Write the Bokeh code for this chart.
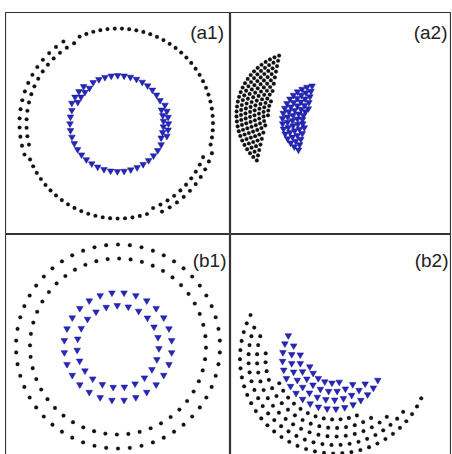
import numpy as np
from bokeh.plotting import figure
from bokeh.layouts import gridplot, column, row
from bokeh.models import Spacer, Range1d
from bokeh.embed import file_html
from bokeh.resources import INLINE
from bokeh.core.properties import value

# Particle shells: each row is an arc (radius, start deg, end deg, particle count),
# angles counter-clockwise from +x, positions in panel units centred on each panel.

# (a1) two concentric rings
A1_BLACK_CENTER = (0.0, 0.0)
A1_BLACK_R = [95, 91.5, 98.5, 95, 91.5, 98.5]
A1_BLACK_FROM = [-15, 116, 121, 200, 290, 294]
A1_BLACK_TO = [116, 196, 201, 290, 341, 345]
A1_BLACK_N = [30, 15, 15, 20, 10, 10]

A1_BLUE_CENTER = (0.0, 0.0)
A1_BLUE_R = [48, 45.5, 50.5, 48, 45.5, 50.5]
A1_BLUE_FROM = [25, 125, 129, 160, 338, 342]
A1_BLUE_TO = [125, 156, 160, 338, 381, 385]
A1_BLUE_N = [13, 4, 4, 22, 6, 6]

# (a2) two crescents
A2_BLACK_CENTER = (-42.5, 9.0)
A2_BLACK_R = [62, 57.5, 53, 48.5, 44, 39.5, 35, 30.5]
A2_BLACK_FROM = [105.9, 108.3, 111.2, 114.7, 119.2, 125.2, 134, 150]
A2_BLACK_TO = [230.1, 227.7, 224.8, 221.3, 216.8, 210.8, 202, 186]
A2_BLACK_N = [27, 24, 21, 18, 15, 12, 9, 4]

A2_BLUE_CENTER = (-23.5, 3.0)
A2_BLUE_R = [35, 30, 25, 20, 15]
A2_BLUE_FROM = [94.6, 97.5, 101.6, 108, 119.8]
A2_BLUE_TO = [241.4, 238.5, 234.4, 228, 216.2]
A2_BLUE_N = [17, 14, 11, 8, 6]

# (b1) double rings
B1_BLACK_CENTER = (0.0, -1.0)
B1_BLACK_R = [102, 88]
B1_BLACK_FROM = [0, 3]
B1_BLACK_TO = [360, 363]
B1_BLACK_N = [54, 48]

B1_BLUE_CENTER = (0.0, -1.0)
B1_BLUE_R = [54, 41]
B1_BLUE_FROM = [0, 5]
B1_BLUE_TO = [360, 365]
B1_BLUE_N = [28, 23]

# (b2) partial shells
B2_BLACK_CENTER = (-6.0, -13.0)
B2_BLACK_R = [95, 86.5, 78, 69.5, 61]
B2_BLACK_FROM = [150, 156, 160, 172, 200]
B2_BLACK_TO = [338, 325, 315, 305, 295]
B2_BLACK_N = [34, 28, 23, 18, 12]

B2_BLUE_CENTER = (-8.5, -13.5)
B2_BLUE_R = [50, 41, 32.5, 24]
B2_BLUE_FROM = [147, 155, 165, 190]
B2_BLUE_TO = [340, 329, 316, 295]
B2_BLUE_N = [19, 14, 10, 6]

LABELS = ["(a1)", "(a2)", "(b1)", "(b2)"]
LABEL_X = [106, 106.5, 108.5, 107.5]
LABEL_Y = [91.5, 91.5, 85, 85]

BLACK = "#111111"
BLUE_FILL = "#2626bf"
BLUE_LINE = "#16168a"


def shell(center, radii, a_from, a_to, counts):
    cx, cy = center
    xs, ys = [], []
    for r, a0, a1, n in zip(radii, a_from, a_to, counts):
        t = np.deg2rad(a0 + (np.arange(n) + 0.5) * (a1 - a0) / n)
        xs.extend(cx + r * np.cos(t))
        ys.extend(cy + r * np.sin(t))
    return xs, ys


def panel(w, h, label, lx, ly, black, blue):
    p = figure(width=w, height=h,
               x_range=Range1d(-w / 2, w / 2), y_range=Range1d(-h / 2, h / 2),
               output_backend="svg", toolbar_location=None, min_border=0,
               x_axis_location=None, y_axis_location=None,
               outline_line_color="#333333", outline_line_width=1.2,
               background_fill_color="white", border_fill_color="white")
    p.grid.visible = False
    bx, by = shell(*black)
    p.scatter(bx, by, marker="circle", size=3.7, fill_color=BLACK,
              line_color=BLACK, line_width=0.3)
    ux, uy = shell(*blue)
    p.scatter(ux, uy, marker="inverted_triangle", size=6.6, fill_color=BLUE_FILL,
              line_color=BLUE_LINE, line_width=0.5)
    p.text(x=[lx], y=[ly], text=[label], text_align="right",
           text_baseline="alphabetic", text_font=value("Liberation Sans"),
           text_font_size="19px", text_color="#222222")
    return p


a1 = panel(225, 222, LABELS[0], LABEL_X[0], LABEL_Y[0],
           (A1_BLACK_CENTER, A1_BLACK_R, A1_BLACK_FROM, A1_BLACK_TO, A1_BLACK_N),
           (A1_BLUE_CENTER, A1_BLUE_R, A1_BLUE_FROM, A1_BLUE_TO, A1_BLUE_N))
a2 = panel(221, 222, LABELS[1], LABEL_X[1], LABEL_Y[1],
           (A2_BLACK_CENTER, A2_BLACK_R, A2_BLACK_FROM, A2_BLACK_TO, A2_BLACK_N),
           (A2_BLUE_CENTER, A2_BLUE_R, A2_BLUE_FROM, A2_BLUE_TO, A2_BLUE_N))
b1 = panel(225, 222, LABELS[2], LABEL_X[2], LABEL_Y[2],
           (B1_BLACK_CENTER, B1_BLACK_R, B1_BLACK_FROM, B1_BLACK_TO, B1_BLACK_N),
           (B1_BLUE_CENTER, B1_BLUE_R, B1_BLUE_FROM, B1_BLUE_TO, B1_BLUE_N))
b2 = panel(221, 222, LABELS[3], LABEL_X[3], LABEL_Y[3],
           (B2_BLACK_CENTER, B2_BLACK_R, B2_BLACK_FROM, B2_BLACK_TO, B2_BLACK_N),
           (B2_BLUE_CENTER, B2_BLUE_R, B2_BLUE_FROM, B2_BLUE_TO, B2_BLUE_N))

grid = gridplot([[a1, a2], [b1, b2]], toolbar_location=None)
layout = column(Spacer(height=12), row(Spacer(width=5), grid))

html = file_html(layout, INLINE, title="shells")
html = html.replace("<head>", "<head><style>html, body {margin: 0; overflow: hidden;}</style>", 1)
open("out.html", "w").write(html)
